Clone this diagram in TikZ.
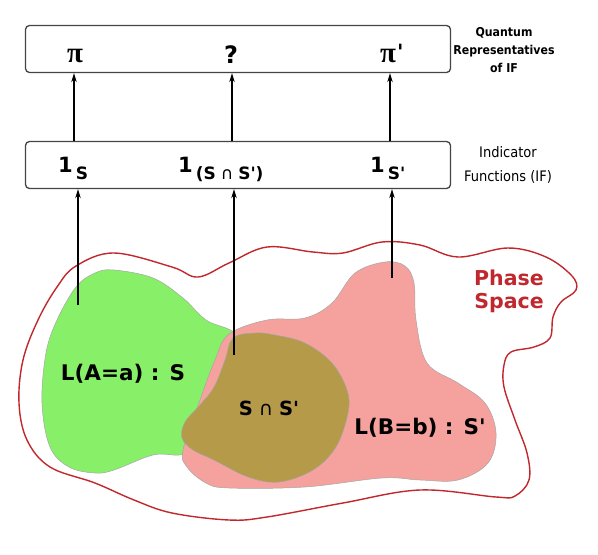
\documentclass[tikz,border=0pt]{standalone}
\usepackage{fontspec}
\newfontfamily\dv{DejaVu Sans}
\newfontfamily\dvc{DejaVu Sans Condensed}
\newfontfamily\lserif{Liberation Serif}
\usetikzlibrary{arrows.meta}
\definecolor{psred}{HTML}{C0282D}
\definecolor{sgreen}{HTML}{88EF69}
\definecolor{spink}{HTML}{F5A29F}
\definecolor{sbrown}{HTML}{B59A49}
\definecolor{boxline}{HTML}{444444}
\newcommand\bigpi{{\lserif\bfseries\fontsize{29}{30}\selectfont π}}
\newcommand\subtxt[1]{\raisebox{-7pt}{\fontsize{17}{18}\selectfont #1}}
\tikzset{
  ifbox/.style={draw=boxline, line width=1.3pt, rounded corners=4pt, minimum width=425pt, minimum height=47pt, inner sep=0pt},
  arr/.style={line width=1.2pt, -{Stealth[length=9pt,width=5.5pt]}},
  boxtxt/.style={font=\dv\bfseries\fontsize{21}{24}\selectfont, inner sep=0pt},
  settxt/.style={font=\dv\bfseries\fontsize{21.5}{24}\selectfont, inner sep=0pt},
  sidelab/.style={font=\dvc\fontsize{14.5}{24}\selectfont, align=center, inner sep=0pt},
  blob/.style={draw=gray!70, line width=0.5pt},
}
\begin{document}
\begin{tikzpicture}[x=1pt,y=-1pt]
\useasboundingbox (0,0) rectangle (598,555);
% boxes
\node[ifbox] (qbox) at (238,49) {};
\node[ifbox] (fbox) at (238,165) {};
% top box text
\node[boxtxt, anchor=base] (tpi) at (75,62) {\bigpi};
\node[boxtxt, font=\dv\bfseries\fontsize{24}{26}\selectfont, anchor=base] (tq) at (231,63) {?};
\node[boxtxt, anchor=base west] (tpip) at (380,62) {\bigpi\kern1pt\raisebox{3pt}{'}};
% indicator texts
\node[boxtxt, anchor=base west] (one1) at (58,172) {1\kern3pt\subtxt{S}};
\node[boxtxt, anchor=base west] (one2) at (178,172) {1\kern3pt\subtxt{(S\kern5pt{\mdseries ∩}\kern5pt S')}};
\node[boxtxt, anchor=base west] (one3) at (370,172) {1\kern3pt\subtxt{S'}};
% side labels
\node[sidelab, font=\dvc\bfseries\fontsize{12.2}{18}\selectfont] (qlab) at (504,50) {Quantum\\Representatives\\of IF};
\node[sidelab] (flab) at (508,165) {Indicator\\Functions (IF)};
% phase space outline
\draw[psred, line width=1.4pt] plot[smooth cycle, tension=0.6] coordinates {
 (114,253) (172,267) (198,277) (229,263) (267,247) (313,252) (343,253) (382,242) (420,245)
 (458,257) (508,248) (546,257) (572,276) (576,290) (561,302) (553,317) (550,338) (534,347)
 (511,352) (504,365) (504,387) (515,420) (527,453) (529,480) (515,496) (496,497) (420,490)
 (343,503) (267,517) (229,520) (172,513) (134,500) (95,483) (50,467) (27,440) (19,403)
 (23,360) (38,320) (57,287) (76,266)};
% green S
\draw[blob, fill=sgreen] plot[smooth cycle, tension=0.6] coordinates {
 (114,270) (153,278) (183,298) (206,320) (240,340) (232,400) (200,450) (179,455)
 (153,455) (114,470) (95,473) (69,467) (50,447) (42,403) (46,353) (57,320) (76,287) (95,273)};
% pink S'
\draw[blob, fill=spink] plot[smooth cycle, tension=0.6] coordinates {
 (229,334) (267,320) (305,318) (332,303) (355,273) (385,262) (405,266) (414,283) (416,320)
 (427,363) (458,383) (485,403) (496,433) (488,463) (458,480) (420,480) (382,478) (305,487)
 (229,488) (206,483) (187,467) (183,450) (200,400) (215,360)};
% brown intersection
\draw[blob, fill=sbrown] plot[smooth cycle, tension=0.6] coordinates {
 (233,338) (255,333) (275,335) (305,343) (332,363) (347,390) (348,413) (336,447) (313,470)
 (279,482) (248,477) (214,460) (193,450) (182,438) (185,422) (199,406) (214,387) (225,360)};
% set labels
\node[settxt] (la) at (123,374) {L(A=a) : S};
\node[settxt, font=\dv\bfseries\fontsize{19.5}{22}\selectfont] (lsi) at (269,408) {S\kern6pt{\mdseries ∩}\kern6pt S'};
\node[settxt] (lb) at (420,428) {L(B=b) : S'};
\node[font=\dv\bfseries\fontsize{20.5}{23}\selectfont, text=psred, align=center, inner sep=0pt] (ps) at (509,291) {Phase\\Space};
% arrow start coordinates
\coordinate (pA) at (78,305);
\coordinate (pI) at (234,355);
\coordinate (pB) at (392,278);
\draw[arr] (pA) -- (pA |- fbox.south);
\draw[arr] (pI) -- (pI |- fbox.south);
\draw[arr] (pB) -- (pB |- fbox.south);
\coordinate (uA) at (74,0);
\coordinate (uI) at (232,0);
\coordinate (uB) at (390,0);
\draw[arr] (uA |- fbox.north) -- (uA |- qbox.south);
\draw[arr] (uI |- fbox.north) -- (uI |- qbox.south);
\draw[arr] (uB |- fbox.north) -- (uB |- qbox.south);
\end{tikzpicture}
\end{document}
